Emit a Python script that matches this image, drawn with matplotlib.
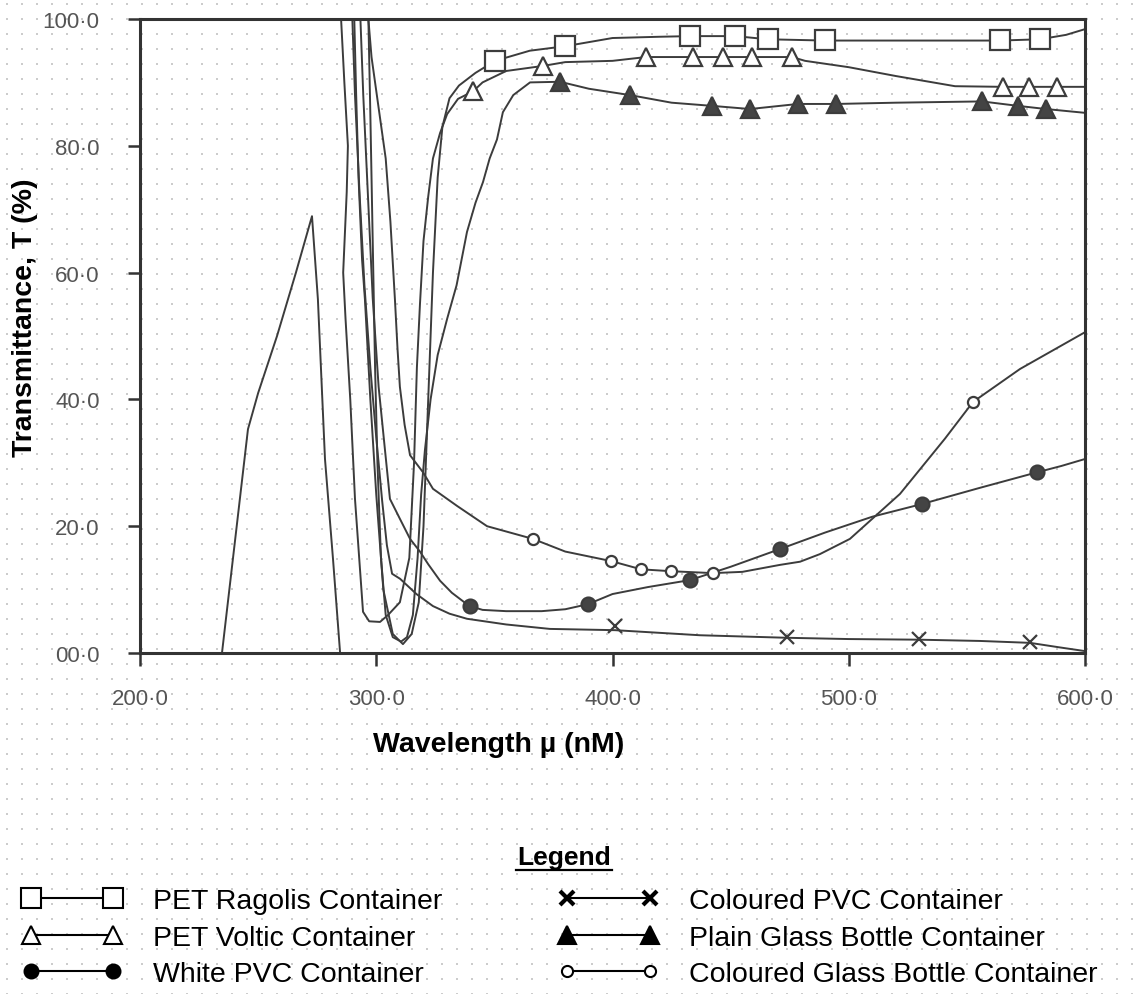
import numpy as np
import matplotlib
matplotlib.use("Agg")
import matplotlib.pyplot as plt
from matplotlib.lines import Line2D

plt.rcParams['font.family'] = ['Liberation Sans', 'DejaVu Sans']

# Data

x_ticks = [200, 300, 400, 500, 600]
x_tick_labels = ["200·0", "300·0", "400·0", "500·0", "600·0"]
y_ticks = [0, 20, 40, 60, 80, 100]
y_tick_labels = ["00·0", "20·0", "40·0", "60·0", "80·0", "100·0"]

# unlabelled early peak trace
peak_wl = [234.7, 240.0, 245.7, 250.0, 258.0, 266.0, 272.8, 275.3, 278.3, 281.7, 284.7]
peak_T = [0.0, 17.0, 35.3, 41.0, 50.0, 60.0, 68.9, 55.8, 30.6, 14.8, 0.0]

# PET Ragolis (open squares)
rag_wl = [290.5, 291.5, 292.5, 294, 295.2, 297.5, 300, 303, 307, 311.3, 315, 318, 320, 322,
          324, 326, 328, 331, 335, 342, 350.3, 365, 379.9, 400, 420, 432.8, 451.9, 465.8,
          490, 530, 564, 580.9, 592, 600]
rag_T = [103, 88, 75, 62, 55.8, 40, 25, 10, 3, 1.4, 3, 8, 20, 40,
         60, 75, 83, 87.5, 89.5, 91.5, 93.4, 95.0, 95.7, 97.0, 97.2, 97.3, 97.3, 96.8,
         96.6, 96.6, 96.6, 96.8, 97.5, 98.4]
rag_mk_wl = [350.3, 379.9, 432.8, 451.9, 465.8, 490.0, 564.0, 580.9]
rag_mk_T = [93.4, 95.7, 97.3, 97.3, 96.8, 96.7, 96.7, 96.8]

# PET Voltic (open triangles)
vol_wl = [284.7, 286.5, 288, 287.5, 286, 287, 289, 291, 294.4, 297, 301.6, 305, 310, 314,
          316, 317.2, 318.5, 320, 322, 324, 327, 330, 334.6, 341, 345, 355, 370.6, 380, 400,
          414.2, 434.1, 446.8, 459, 476, 481.5, 500, 520, 545, 565.3, 576.3, 588.1, 600]
vol_T = [103, 90, 80, 72.7, 60, 52.7, 40, 24.3, 6.5, 5.0, 4.9, 6, 8, 15,
         30, 45, 55, 65, 72, 78, 82, 85, 87.4, 88.6, 90.0, 91.8, 92.6, 93.2, 93.4,
         94.0, 94.0, 94.0, 94.0, 94.0, 93.4, 92.4, 91.0, 89.4, 89.3, 89.3, 89.3, 89.3]
vol_mk_wl = [341.0, 370.6, 414.2, 434.1, 446.8, 459.0, 476.0, 565.3, 576.3, 588.1]
vol_mk_T = [88.6, 92.6, 94.0, 94.0, 94.0, 94.0, 94.0, 89.3, 89.3, 89.3]

# Plain glass bottle (filled triangles)
pgl_wl = [296.5, 297.5, 298.5, 299.5, 300.5, 302, 304, 307, 310.5, 313, 315.5, 317.5, 319,
          320.6, 323, 326, 330, 334, 338.4, 342, 345.2, 348, 351.1, 353.6, 358, 365.1,
          377.8, 390, 407.4, 425, 442.1, 458.2, 478.5, 494.6, 520, 556.4, 571.6, 583.5, 600]
pgl_T = [103, 85, 65, 45, 30, 15, 6, 2.5, 1.8, 2.5, 6, 15, 25,
         32, 40, 47, 52.7, 58, 66.4, 71, 74.3, 78, 81, 85.3, 88, 90.0,
         90.1, 89.0, 88.0, 86.8, 86.3, 85.8, 86.6, 86.6, 86.8, 87.0, 86.3, 85.8, 85.2]
pgl_mk_wl = [377.8, 407.4, 442.1, 458.2, 478.5, 494.6, 556.4, 571.6, 583.5]
pgl_mk_T = [90.1, 88.0, 86.3, 85.8, 86.6, 86.6, 87.0, 86.3, 85.8]

# White PVC (filled circles)
wpv_wl = [293, 294.5, 296.5, 298.5, 301, 303.7, 305.8, 310.1, 314.3, 318.5, 322, 327, 332,
          338, 339.7, 345, 355, 370, 380, 389.6, 400, 415, 432.8, 450, 470.9, 490, 510,
          531.0, 555, 579.7, 590, 600]
wpv_T = [103, 88, 72, 56, 42, 32, 24.3, 21.1, 18.0, 16.0, 14.0, 11.4, 9.5,
         7.8, 7.4, 6.8, 6.6, 6.6, 6.9, 7.7, 9.3, 10.4, 11.5, 13.6, 16.4, 19.0, 21.5,
         23.5, 26.0, 28.5, 29.5, 30.6]
wpv_mk_wl = [339.7, 389.6, 432.8, 470.9, 531.0, 579.7]
wpv_mk_T = [7.4, 7.7, 11.5, 16.4, 23.5, 28.5]

# Coloured PVC (crosses)
cpv_wl = [289.6, 291, 293, 295, 297.5, 300, 302.5, 304.5, 306.7, 310.1, 317, 324, 331,
          338.4, 355, 373.5, 401.1, 437, 473.9, 500, 529.7, 555.6, 576.7, 589, 600]
cpv_T = [103, 88, 72, 58, 45, 34, 24, 17, 12.5, 11.7, 9.3, 7.4, 6.2,
         5.4, 4.5, 3.8, 3.6, 2.8, 2.4, 2.2, 2.1, 1.9, 1.6, 0.9, 0.3]
cpv_mk_wl = [401.1, 473.9, 529.7, 576.7]
cpv_mk_T = [4.3, 2.5, 2.2, 1.7]

# Coloured glass bottle (open circles)
cgl_wl = [296, 298, 301, 304, 306, 307.9, 309, 310, 312, 314.3, 319.8, 324, 334.2, 346.9,
          366.3, 380, 399.4, 412.1, 424.8, 442.5, 455, 470.9, 479.4, 487.8, 500.5, 521.7,
          540.7, 552.6, 572.5, 600]
cgl_T = [103, 94, 86, 78, 68, 55.8, 48, 42, 36, 31.2, 28.5, 25.9, 23.2, 20.0,
         18.0, 16.0, 14.5, 13.2, 12.9, 12.6, 12.8, 13.9, 14.4, 15.6, 18.0, 25.1,
         33.8, 39.6, 44.8, 50.6]
cgl_mk_wl = [366.3, 399.4, 412.1, 424.8, 442.5, 552.6]
cgl_mk_T = [18.0, 14.5, 13.2, 12.9, 12.6, 39.6]

series = [
    ("PET Ragolis Container", rag_wl, rag_T, rag_mk_wl, rag_mk_T, 's', 'white', 14),
    ("PET Voltic Container", vol_wl, vol_T, vol_mk_wl, vol_mk_T, '^', 'white', 13),
    ("White PVC Container", wpv_wl, wpv_T, wpv_mk_wl, wpv_mk_T, 'o', '#444444', 10),
    ("Coloured PVC Container", cpv_wl, cpv_T, cpv_mk_wl, cpv_mk_T, 'x', 'none', 10),
    ("Plain Glass Bottle Container", pgl_wl, pgl_T, pgl_mk_wl, pgl_mk_T, '^', '#444444', 13),
    ("Coloured Glass Bottle Container", cgl_wl, cgl_T, cgl_mk_wl, cgl_mk_T, 'o', 'white', 8),
]

# Figure

W, H = 1134, 995
fig = plt.figure(figsize=(W / 100, H / 100), dpi=100)

# dotted paper background
bg = fig.add_axes([0, 0, 1, 1], zorder=-10)
paper = np.ones((H, W))
for dy in range(2):
    for dx in range(2):
        paper[4 + dy::15, 6 + dx::15] = 0.8
bg.imshow(paper, cmap='gray', vmin=0, vmax=1, interpolation='nearest', aspect='auto')
bg.axis('off')

ax = fig.add_axes([140 / W, 1 - 654 / H, (1085 - 140) / W, (654 - 20) / H])
ax.set_facecolor('none')

line_col = '#3c3c3c'
ax.plot(peak_wl, peak_T, color=line_col, lw=1.4)

handles = []
for label, wl, T, mwl, mT, mk, fc, ms in series:
    ax.plot(wl, T, color=line_col, lw=1.4)
    ax.plot(mwl, mT, linestyle='none', marker=mk, markersize=ms, markerfacecolor=fc,
            markeredgecolor=line_col, markeredgewidth=1.6)
    lfc = 'black' if fc != 'white' else 'white'
    mew = 3 if mk == 'x' else 1.5
    handles.append(Line2D([0], [0], color='black', lw=1.5, marker=mk, markersize=ms,
                          markerfacecolor=lfc, markeredgecolor='black',
                          markeredgewidth=mew, label=label))

ax.set_xlim(200, 600)
ax.set_ylim(0, 100)
ax.set_xticks(x_ticks)
ax.set_xticklabels(x_tick_labels)
ax.set_yticks(y_ticks)
ax.set_yticklabels(y_tick_labels)
ax.tick_params(axis='both', direction='out', length=9, width=1.8, color='#333333',
               labelcolor='#555555', labelsize=16)
ax.tick_params(axis='x', pad=16)
ax.tick_params(axis='y', pad=20)
for sp in ax.spines.values():
    sp.set_linewidth(2.2)
    sp.set_color('#333333')

fig.text(25 / W, 1 - 318 / H, "Transmittance, T (%)", rotation=90, ha='center',
         va='center', fontsize=20.5, fontweight='bold')
fig.text(499 / W, 1 - 745 / H, "Wavelength µ (nM)", ha='center', va='center',
         fontsize=20.5, fontweight='bold')

# Legend
fig.text(564 / W, 1 - 858 / H, "Legend", ha='center', va='center', fontsize=19,
         fontweight='bold')
fig.add_artist(Line2D([516 / W, 612 / W], [1 - 871 / H, 1 - 871 / H], color='black', lw=1.6))
fig.legend(handles=handles, ncol=2, loc='upper left', bbox_to_anchor=(11 / W, 1 - 878 / H),
           frameon=False, numpoints=2, handlelength=3.5, handletextpad=1.1,
           columnspacing=4.07, labelspacing=0.36, fontsize=20.5, borderaxespad=0)

fig.savefig("out.png", dpi=100)
